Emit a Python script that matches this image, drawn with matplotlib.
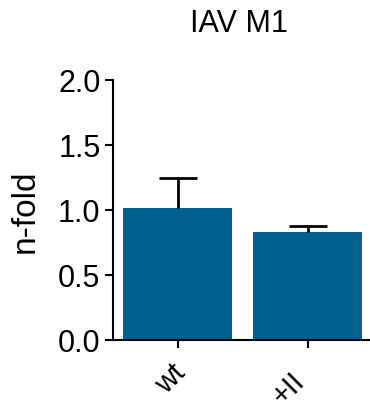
import matplotlib
matplotlib.use("Agg")
import matplotlib.pyplot as plt
from matplotlib.transforms import ScaledTranslation

categories = ["wt", "+II"]
means = [1.015, 0.83]
errors = [0.23, 0.045]
title = "IAV M1"
ylabel = "n-fold"
yticks = [0.0, 0.5, 1.0, 1.5, 2.0]

plt.rcParams['font.family'] = ['Liberation Sans', 'DejaVu Sans']

fig = plt.figure(figsize=(3.7, 4.1), dpi=100)
ax = fig.add_axes([113/370, 1-341/410, 1-113/370, (341-81)/410])

x = list(range(len(categories)))
ax.bar(x, means, width=0.84, color="#00608f", zorder=2)
eb = ax.errorbar(x, means, yerr=[[0]*len(errors), errors], fmt="none",
                 ecolor="black", elinewidth=2, capsize=14, capthick=2, zorder=3)
eb[1][0].set_visible(False)

ax.set_xlim(-0.5, 1.48)
ax.set_ylim(0, 2.0)
ax.set_yticks(yticks)
ax.set_yticklabels([f"{v:.1f}" for v in yticks], fontsize=22)
ax.set_xticks(x)
ax.set_xticklabels(categories, fontsize=21, rotation=45, ha="right",
                   rotation_mode="anchor")
ax.set_ylabel(ylabel, fontsize=24, labelpad=12)
ax.set_title(title, fontsize=22, pad=35, x=0.49)

for s in ["top", "right"]:
    ax.spines[s].set_visible(False)
for s in ["left", "bottom"]:
    ax.spines[s].set_linewidth(1.5)
ax.tick_params(axis="both", width=1.5, length=6, pad=3, color="black")
ax.tick_params(axis="x", pad=9)

# per-label nudges (pixels -> inches)
nudges = [(-7, 3), (-17, -5)]
for lab, (dx, dy) in zip(ax.get_xticklabels(), nudges):
    lab.set_transform(lab.get_transform() +
                      ScaledTranslation(dx/100, dy/100, fig.dpi_scale_trans))

fig.savefig("out.png", dpi=100)
